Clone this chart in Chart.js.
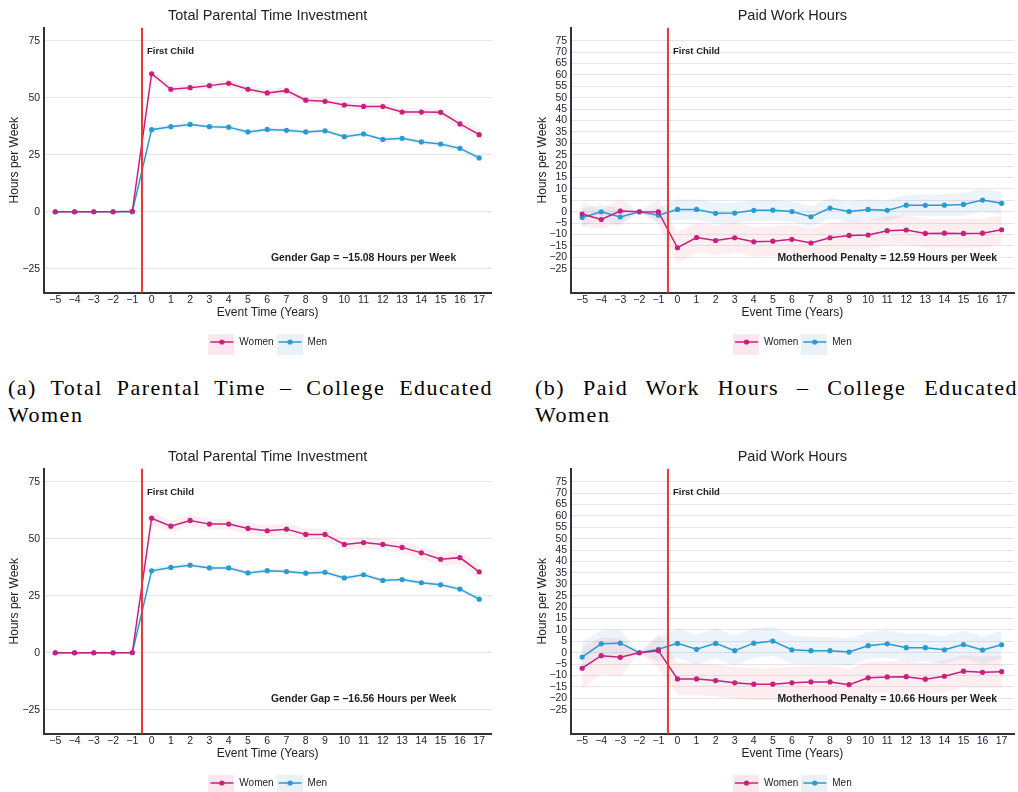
<!DOCTYPE html>
<html>
<head>
<meta charset="utf-8">
<script src="https://cdn.jsdelivr.net/npm/chart.js@4.4.0/dist/chart.umd.min.js"></script>
<style>
  html, body { margin: 0; padding: 0; background: #fff; }
  body { position: relative; width: 1018px; height: 792px; overflow: hidden; }
  .panel { position: absolute; }
  .cap { position: absolute; font-family: "Liberation Serif", "Times New Roman", serif; font-size: 22px; line-height: 27px; letter-spacing: 1.5px; color: #000; }
  .cap .j { text-align: justify; text-align-last: justify; }
</style>
</head>
<body>
<canvas class="panel" id="timeTop" width="500" height="360" style="left:0;top:0"></canvas>
<canvas class="panel" id="workTop" width="498" height="360" style="left:520px;top:0"></canvas>
<canvas class="panel" id="timeBottom" width="500" height="360" style="left:0;top:440.5px"></canvas>
<canvas class="panel" id="workBottom" width="498" height="360" style="left:520px;top:440.5px"></canvas>

<div class="cap" style="left:8px;top:374px;width:485px">
  <div class="j">(a) Total Parental Time – College Educated</div>
  <div>Women</div>
</div>
<div class="cap" style="left:535px;top:374px;width:483px">
  <div class="j">(b) Paid Work Hours – College Educated</div>
  <div>Women</div>
</div>

<script>
// event time relative to first child
const eventTime = [-5, -4, -3, -2, -1, 0, 1, 2, 3, 4, 5, 6, 7, 8, 9, 10, 11, 12, 13, 14, 15, 16, 17];
const timeTicks = [-25, 0, 25, 50, 75];
const workTicks = [-25, -20, -15, -10, -5, 0, 5, 10, 15, 20, 25, 30, 35, 40, 45, 50, 55, 60, 65, 70, 75];

// top left: total parental time
const womenTimeA = [0, 0, 0, 0, 0.2, 60.5, 53.7, 54.4, 55.3, 56.3, 53.7, 52.1, 53.1, 48.9, 48.4, 46.8, 46.2, 46.1, 43.7, 43.7, 43.6, 38.5, 33.8];
const menTimeA = [0, 0, 0, 0, 0, 36.0, 37.3, 38.3, 37.3, 37.1, 35.0, 36.1, 35.7, 35.0, 35.5, 32.9, 34.1, 31.7, 32.2, 30.6, 29.7, 27.8, 23.6];
const ciWomenTimeA = [0, 0, 0, 0, 0.3, 2.2, 1.6, 1.6, 1.7, 1.7, 1.6, 1.6, 1.7, 1.6, 1.6, 1.6, 1.6, 1.7, 1.7, 1.7, 1.8, 2.0, 2.0];
const ciMenTimeA = [0, 0, 0, 0, 0.2, 1.3, 1.0, 1.0, 1.0, 1.0, 1.0, 1.0, 1.0, 1.0, 1.0, 1.0, 1.0, 1.0, 1.0, 1.0, 1.1, 1.2, 1.3];

// top right: paid work hours
const womenWorkB = [-1.0, -3.4, 0.3, 0, -0.1, -15.8, -11.3, -12.6, -11.4, -13.2, -12.9, -12.1, -13.7, -11.4, -10.4, -10.2, -8.3, -8.0, -9.5, -9.4, -9.5, -9.4, -7.9];
const menWorkB = [-2.5, 0, -2.3, 0, -1.5, 1.0, 1.0, -0.7, -0.6, 0.6, 0.7, 0.1, -2.2, 1.6, 0.1, 1.0, 0.6, 2.9, 2.8, 2.9, 3.2, 5.1, 3.7];
const ciWomenWorkB = [5.5, 4.0, 5.5, 0, 5.5, 7.0, 6.5, 6.5, 6.5, 6.5, 6.5, 6.5, 6.5, 6.5, 6.5, 6.5, 6.3, 6.3, 6.3, 6.3, 6.3, 6.3, 6.3];
const ciMenWorkB = [4.0, 3.0, 4.0, 0, 3.0, 4.5, 4.5, 4.5, 4.5, 4.5, 4.5, 4.5, 4.5, 4.5, 4.5, 4.5, 4.5, 4.5, 4.8, 4.8, 5.0, 5.0, 5.0];

// bottom left: total parental time
const womenTimeC = [0, 0, 0, 0, 0.1, 59.0, 55.5, 58.0, 56.4, 56.4, 54.5, 53.5, 54.2, 51.9, 51.9, 47.5, 48.3, 47.5, 46.2, 43.8, 41.0, 41.7, 35.5];
const menTimeC = [0, 0, 0, 0, 0, 35.9, 37.4, 38.4, 37.2, 37.2, 35.0, 36.0, 35.6, 34.9, 35.3, 32.8, 34.2, 31.7, 32.1, 30.7, 29.8, 27.9, 23.5];
const ciWomenTimeC = [0, 0, 0, 0, 0.3, 3.0, 2.4, 2.6, 2.4, 2.4, 2.4, 2.4, 2.5, 2.4, 2.5, 2.4, 2.5, 2.5, 2.6, 2.6, 2.8, 3.0, 3.0];
const ciMenTimeC = [0, 0, 0, 0, 0.2, 1.3, 1.0, 1.0, 1.0, 1.0, 1.0, 1.0, 1.0, 1.0, 1.0, 1.0, 1.0, 1.0, 1.0, 1.0, 1.1, 1.2, 1.3];

// bottom right: paid work hours
const womenWorkD = [-6.8, -1.3, -2.0, 0, 0.9, -11.5, -11.5, -12.2, -13.2, -13.8, -13.8, -13.2, -12.8, -12.8, -14.0, -11.0, -10.6, -10.5, -11.6, -10.3, -8.1, -8.6, -8.3];
const menWorkD = [-1.9, 3.9, 4.2, 0, 1.5, 4.1, 1.5, 4.1, 0.9, 4.2, 5.1, 1.3, 0.9, 0.9, 0.3, 3.1, 3.9, 2.2, 2.2, 1.3, 3.6, 1.2, 3.5];
const ciWomenWorkD = [9.0, 8.0, 8.5, 0, 7.5, 7.0, 7.0, 7.0, 7.0, 7.0, 7.0, 7.0, 7.0, 7.0, 7.0, 7.0, 7.0, 7.0, 7.0, 7.0, 7.0, 7.0, 7.0];
const ciMenWorkD = [6.5, 6.0, 6.0, 0, 5.5, 6.5, 6.5, 6.5, 6.5, 6.5, 6.5, 6.0, 6.0, 6.0, 6.0, 6.0, 6.0, 6.0, 6.0, 6.0, 6.0, 6.0, 6.0];

const womenColor = '#c8207e';
const menColor = '#2a9bd2';
const womenShade = 'rgba(232, 120, 150, 0.13)';
const menShade = 'rgba(110, 165, 215, 0.13)';
const sans = '"Liberation Sans", Arial, sans-serif';

function fmt(v) {
    return v < 0 ? '\u2212' + Math.abs(v) : String(v);
}

function legendIcon(color, shade) {
    const c = document.createElement('canvas');
    c.width = 26;
    c.height = 26;
    const g = c.getContext('2d');
    g.fillStyle = shade;
    g.fillRect(0, 0, 26, 26);
    g.strokeStyle = color;
    g.lineWidth = 1.5;
    g.beginPath();
    g.moveTo(2, 13);
    g.lineTo(25, 13);
    g.stroke();
    g.fillStyle = color;
    g.beginPath();
    g.arc(13.5, 13, 2.6, 0, Math.PI * 2);
    g.fill();
    return c;
}

const womenIcon = legendIcon(womenColor, 'rgba(240, 170, 190, 0.28)');
const menIcon = legendIcon(menColor, 'rgba(170, 200, 225, 0.25)');

const eventMarker = {
    id: 'eventMarker',
    afterDatasetsDraw(chart, args, opts) {
        const { ctx, chartArea, scales: { x, y } } = chart;
        const px = x.getPixelForValue(opts.at);
        ctx.save();
        ctx.strokeStyle = '#ee3535';
        ctx.lineWidth = 2;
        ctx.beginPath();
        ctx.moveTo(px, chartArea.top);
        ctx.lineTo(px, chartArea.bottom);
        ctx.stroke();
        ctx.fillStyle = '#1e1e1e';
        ctx.textBaseline = 'middle';
        ctx.font = 'bold 9.5px ' + sans;
        ctx.fillText('First Child', px + 5, y.getPixelForValue(opts.labelY));
        ctx.font = 'bold 10.4px ' + sans;
        ctx.textAlign = 'center';
        ctx.fillText(opts.note, x.getPixelForValue(opts.noteX), y.getPixelForValue(opts.noteY));
        ctx.restore();
    }
};

function points(values) {
    return eventTime.map(function (t, i) { return { x: t, y: values[i] }; });
}

function band(values, ci, shade) {
    return [
        {
            data: eventTime.map(function (t, i) { return { x: t, y: values[i] - ci[i] }; }),
            borderWidth: 0, pointRadius: 0, fill: false
        },
        {
            data: eventTime.map(function (t, i) { return { x: t, y: values[i] + ci[i] }; }),
            borderWidth: 0, pointRadius: 0, fill: '-1', backgroundColor: shade
        }
    ];
}

function series(label, values, color) {
    return {
        label: label,
        data: points(values),
        borderColor: color,
        backgroundColor: color,
        borderWidth: 1.5,
        pointRadius: 2.6,
        pointBorderWidth: 0,
        tension: 0,
        fill: false
    };
}

function buildChart(id, p) {
    // lower index is painted last, so the lines come first and the bands after
    const datasets = [series('Women', p.women, womenColor), series('Men', p.men, menColor)]
        .concat(band(p.women, p.ciWomen, womenShade))
        .concat(band(p.men, p.ciMen, menShade));

    const config = {
        type: 'line',
        data: { datasets: datasets },
        options: {
            responsive: false,
            animation: false,
            events: [],
            layout: { padding: { left: 0, right: p.padRight, top: 0, bottom: 3 } },
            scales: {
                x: {
                    type: 'linear',
                    min: -5.6,
                    max: 17.65,
                    afterBuildTicks: function (s) { s.ticks = eventTime.map(function (v) { return { value: v }; }); },
                    afterFit: function (s) { s.height = 41.3; },
                    grid: { display: false, drawTicks: false },
                    border: { display: true, color: '#333', width: 2 },
                    ticks: {
                        autoSkip: false, maxRotation: 0, padding: 1,
                        color: '#23233f', font: { family: sans, size: 10.5 },
                        callback: fmt
                    },
                    title: {
                        display: true, text: 'Event Time (Years)', color: '#222',
                        font: { family: sans, size: 12 }, padding: { top: 0, bottom: 14.3 }
                    }
                },
                y: {
                    type: 'linear',
                    min: -35.5,
                    max: 80.7,
                    afterBuildTicks: function (s) { s.ticks = p.yTicks.map(function (v) { return { value: v }; }); },
                    afterFit: function (s) { s.width = p.axisWidth; },
                    grid: { color: '#e6e6e6', lineWidth: 1, drawTicks: false },
                    border: { display: true, color: '#333', width: 2 },
                    ticks: {
                        autoSkip: false, padding: 3.5,
                        color: '#23233f', font: { family: sans, size: 10.5 },
                        callback: fmt
                    },
                    title: {
                        display: true, text: 'Hours per Week', color: '#222',
                        font: { family: sans, size: 12 }, padding: { top: p.yTitlePad, bottom: 0 }
                    }
                }
            },
            plugins: {
                title: {
                    display: true, text: p.title, fullSize: false, color: '#222',
                    font: { family: sans, size: 14.5, weight: 'normal' },
                    padding: { top: 7, bottom: 3.3 }
                },
                legend: {
                    position: 'bottom',
                    fullSize: false,
                    labels: {
                        usePointStyle: true,
                        pointStyleWidth: 26,
                        padding: 3,
                        color: '#222',
                        font: { family: sans, size: 10 },
                        generateLabels: function () {
                            return [
                                { text: 'Women', pointStyle: womenIcon, datasetIndex: 0, hidden: false, lineWidth: 0, strokeStyle: 'transparent', fillStyle: 'transparent', fontColor: '#222' },
                                { text: 'Men', pointStyle: menIcon, datasetIndex: 1, hidden: false, lineWidth: 0, strokeStyle: 'transparent', fillStyle: 'transparent', fontColor: '#222' }
                            ];
                        }
                    }
                },
                tooltip: { enabled: false },
                eventMarker: { at: -0.5, labelY: 70.2, note: p.note, noteX: 11, noteY: -20.3 }
            }
        },
        plugins: [eventMarker]
    };

    return new Chart(document.getElementById(id), config);
}

buildChart('timeTop', {
    title: 'Total Parental Time Investment',
    women: womenTimeA, men: menTimeA, ciWomen: ciWomenTimeA, ciMen: ciMenTimeA,
    yTicks: timeTicks, axisWidth: 43.7, padRight: 8.3, yTitlePad: 7.8,
    note: 'Gender Gap = \u221215.08 Hours per Week'
});

buildChart('workTop', {
    title: 'Paid Work Hours',
    women: womenWorkB, men: menWorkB, ciWomen: ciWomenWorkB, ciMen: ciMenWorkB,
    yTicks: workTicks, axisWidth: 50.7, padRight: 0, yTitlePad: 15.8,
    note: 'Motherhood Penalty = 12.59 Hours per Week'
});

buildChart('timeBottom', {
    title: 'Total Parental Time Investment',
    women: womenTimeC, men: menTimeC, ciWomen: ciWomenTimeC, ciMen: ciMenTimeC,
    yTicks: timeTicks, axisWidth: 43.7, padRight: 8.3, yTitlePad: 7.8,
    note: 'Gender Gap = \u221216.56 Hours per Week'
});

buildChart('workBottom', {
    title: 'Paid Work Hours',
    women: womenWorkD, men: menWorkD, ciWomen: ciWomenWorkD, ciMen: ciMenWorkD,
    yTicks: workTicks, axisWidth: 50.7, padRight: 0, yTitlePad: 15.8,
    note: 'Motherhood Penalty = 10.66 Hours per Week'
});
</script>
</body>
</html>
